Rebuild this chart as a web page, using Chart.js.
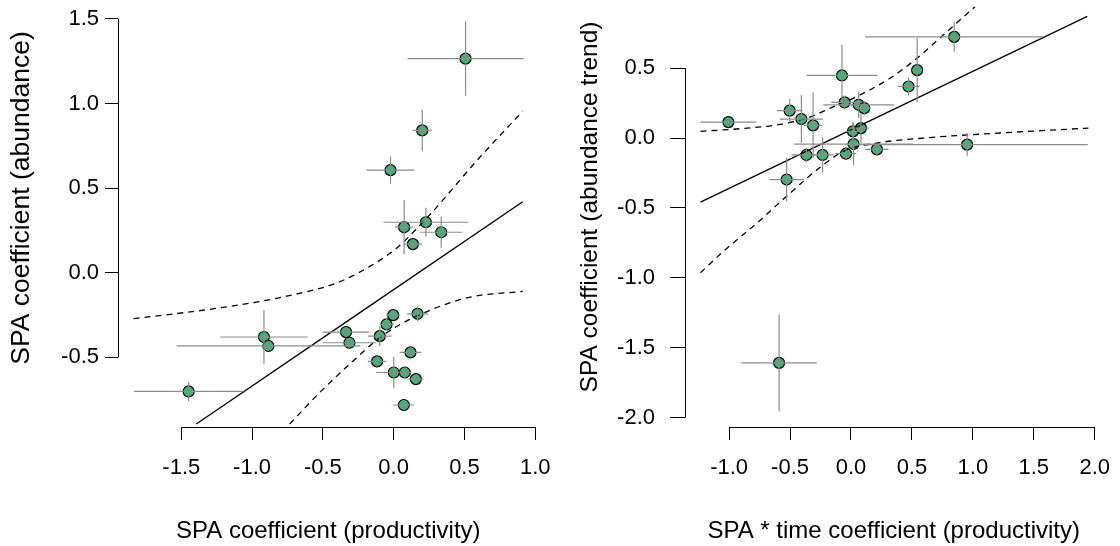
<!DOCTYPE html>
<html>
<head>
<meta charset="utf-8">
<script src="https://cdn.jsdelivr.net/npm/chart.js@4.4.1/dist/chart.umd.min.js"></script>
<style>
  body { margin: 0; background: #fff; }
  canvas { position: absolute; top: 0; }
</style>
</head>
<body>
<canvas id="left" width="560" height="546" style="left:0"></canvas>
<canvas id="right" width="560" height="546" style="left:560px"></canvas>
<script>
// left panel: SPA coefficient (productivity) vs SPA coefficient (abundance)
const prodX     = [0.508, 0.202, -0.022, 0.228, 0.074, 0.336, 0.136, -0.003, 0.169, -0.050, -0.098, -0.336, -0.312, -0.916, -0.885, 0.119, -0.117, 0.001, 0.079, 0.157, 0.072, -1.448];
const prodXErr  = [0.41, 0.067, 0.17, 0.30, 0.064, 0.149, 0.065, 0.05, 0.074, 0.05, 0.083, 0.165, 0.19, 0.309, 0.648, 0.077, 0.065, 0.126, 0.04, 0.053, 0.074, 0.387];
const abundY    = [1.265, 0.841, 0.606, 0.298, 0.269, 0.239, 0.169, -0.251, -0.243, -0.306, -0.375, -0.351, -0.414, -0.380, -0.433, -0.471, -0.524, -0.590, -0.590, -0.629, -0.782, -0.702];
const abundYErr = [0.22, 0.123, 0.08, 0.086, 0.16, 0.091, 0.03, 0.03, 0.044, 0.04, 0.059, 0.03, 0.03, 0.159, 0.03, 0.03, 0.03, 0.093, 0.03, 0.03, 0.03, 0.057];
const fitLeftX   = [-1.394, 0.912];
const fitLeftY   = [-0.894, 0.419];
const upLeftX    = [-1.837, -1.229, -0.757, -0.404, -0.168, 0.02, 0.258, 0.58, 0.912];
const upLeftY    = [-0.272, -0.208, -0.139, -0.061, 0.037, 0.145, 0.345, 0.655, 0.955];
const loLeftX    = [-0.734, -0.522, -0.286, -0.098, 0.115, 0.516, 0.912];
const loLeftY    = [-0.894, -0.708, -0.522, -0.384, -0.276, -0.149, -0.110];
const leftXTicks = [-1.5, -1.0, -0.5, 0.0, 0.5, 1.0];
const leftYTicks = [-0.5, 0.0, 0.5, 1.0, 1.5];

// right panel: SPA * time coefficient (productivity) vs SPA coefficient (abundance trend)
const timeX     = [-1.006, -0.503, -0.407, -0.311, -0.366, -0.233, 0.021, -0.041, -0.528, -0.074, -0.052, 0.063, 0.109, 0.016, 0.082, 0.213, 0.472, 0.543, 0.847, 0.953, -0.59];
const timeXErr  = [0.23, 0.105, 0.178, 0.075, 0.12, 0.09, 0.49, 0.085, 0.143, 0.29, 0.11, 0.29, 0.05, 0.06, 0.065, 0.095, 0.09, 0.04, 0.73, 0.99, 0.31];
const trendY    = [0.114, 0.196, 0.136, 0.091, -0.121, -0.121, -0.043, -0.112, -0.297, 0.448, 0.255, 0.238, 0.214, 0.048, 0.071, -0.081, 0.369, 0.486, 0.724, -0.047, -1.609];
const trendYErr = [0.03, 0.086, 0.17, 0.236, 0.05, 0.125, 0.15, 0.04, 0.155, 0.22, 0.05, 0.095, 0.05, 0.07, 0.107, 0.04, 0.065, 0.23, 0.105, 0.083, 0.348];
const fitRightX   = [-1.235, 1.939];
const fitRightY   = [-0.459, 0.871];
const upRightX    = [-1.235, -0.907, -0.634, -0.361, -0.170, 0.049, 0.322, 0.541, 0.759, 1.019];
const upRightY    = [0.048, 0.067, 0.091, 0.143, 0.214, 0.298, 0.429, 0.571, 0.739, 0.941];
const loRightX    = [-1.235, -1.044, -0.770, -0.498, -0.225, -0.05, 0.213, 0.595, 1.224, 1.948];
const loRightY    = [-0.964, -0.809, -0.607, -0.393, -0.19, -0.09, -0.036, 0.0, 0.036, 0.071];
const rightXTicks = [-1.0, -0.5, 0.0, 0.5, 1.0, 1.5, 2.0];
const rightYTicks = [-2.0, -1.5, -1.0, -0.5, 0.0, 0.5];

const FONT = '"Liberation Sans", Arial, sans-serif';
const pairs = (xs, ys) => xs.map((x, i) => ({ x, y: ys[i] }));

// gray error crosses on top of the points, R-style axis lines, rotated y title
const rStyle = {
  id: 'rStyle',
  afterDatasetsDraw(chart, args, opts) {
    const { ctx, scales: { x, y } } = chart;
    const pts = chart.data.datasets[0].data;
    ctx.save();
    ctx.strokeStyle = '#8c8c8c';
    ctx.lineWidth = 1.2;
    pts.forEach((p, i) => {
      const px = x.getPixelForValue(p.x), py = y.getPixelForValue(p.y);
      ctx.beginPath();
      ctx.moveTo(x.getPixelForValue(p.x - opts.xErr[i]), py);
      ctx.lineTo(x.getPixelForValue(p.x + opts.xErr[i]), py);
      ctx.moveTo(px, y.getPixelForValue(p.y - opts.yErr[i]));
      ctx.lineTo(px, y.getPixelForValue(p.y + opts.yErr[i]));
      ctx.stroke();
    });
    ctx.restore();
  },
  afterDraw(chart, args, opts) {
    const { ctx, chartArea, scales: { x, y } } = chart;
    ctx.save();
    ctx.strokeStyle = '#000';
    ctx.lineWidth = 1;
    ctx.beginPath();
    const bx = Math.round(chartArea.bottom) + 0.5;
    ctx.moveTo(x.getPixelForValue(x.ticks[0].value), bx);
    ctx.lineTo(x.getPixelForValue(x.ticks[x.ticks.length - 1].value), bx);
    const ly = Math.round(chartArea.left) + 0.5;
    ctx.moveTo(ly, y.getPixelForValue(y.ticks[0].value));
    ctx.lineTo(ly, y.getPixelForValue(y.ticks[y.ticks.length - 1].value));
    ctx.stroke();

    ctx.translate(opts.titleX, opts.titleY);
    ctx.rotate(-Math.PI / 2);
    ctx.fillStyle = '#000';
    ctx.font = opts.titleSize + 'px ' + FONT;
    ctx.textAlign = 'center';
    ctx.textBaseline = 'middle';
    ctx.fillText(opts.yTitle, 0, 0);
    ctx.restore();
  }
};

function makePanel(id, p) {
  const lineSet = (xs, ys, dash) => ({
    type: 'line',
    data: pairs(xs, ys),
    borderColor: '#000',
    borderWidth: 1.3,
    borderDash: dash,
    pointRadius: 0,
    cubicInterpolationMode: 'monotone',
    fill: false,
    order: 0
  });
  const tickFont = { family: FONT, size: 22 };
  new Chart(document.getElementById(id), {
    type: 'scatter',
    data: {
      datasets: [
        {
          data: pairs(p.x, p.y),
          backgroundColor: '#3cb371',
          borderColor: '#000',
          borderWidth: 1.2,
          pointRadius: 5.5,
          order: 1
        },
        lineSet(p.fitX, p.fitY, []),
        lineSet(p.upX, p.upY, [6, 5]),
        lineSet(p.loX, p.loY, [6, 5])
      ]
    },
    options: {
      responsive: false,
      animation: false,
      devicePixelRatio: 1,
      layout: { padding: { top: p.top, right: p.right, left: 0, bottom: 0 } },
      plugins: {
        legend: { display: false },
        tooltip: { enabled: false },
        rStyle: { xErr: p.xErr, yErr: p.yErr, yTitle: p.yTitle, titleX: p.titleX, titleY: p.titleY, titleSize: p.titleSize }
      },
      scales: {
        x: {
          type: 'linear',
          min: p.xMin, max: p.xMax,
          afterBuildTicks: s => { s.ticks = p.xTicks.map(v => ({ value: v })); },
          afterFit: s => { s.height = 119; s.paddingLeft = 0; s.paddingRight = 0; },
          border: { display: false },
          grid: { drawOnChartArea: false, drawTicks: true, tickLength: 13, color: '#000', lineWidth: 1 },
          ticks: { autoSkip: false, maxRotation: 0, color: '#000', font: tickFont, padding: 15, callback: v => v.toFixed(1) },
          title: { display: true, text: p.xTitle, color: '#000', font: { family: FONT, size: 24 }, padding: { top: 0, bottom: 0 } }
        },
        y: {
          type: 'linear',
          min: p.yMin, max: p.yMax,
          afterBuildTicks: s => { s.ticks = p.yTicks.map(v => ({ value: v })); },
          afterFit: s => { s.width = p.yWidth; s.paddingTop = 0; s.paddingBottom = 0; },
          border: { display: false },
          grid: { drawOnChartArea: false, drawTicks: true, tickLength: p.tickLen, color: '#000', lineWidth: 1 },
          ticks: { autoSkip: false, color: '#000', font: tickFont, padding: p.yPad, callback: v => v.toFixed(1) }
        }
      }
    },
    plugins: [rStyle]
  });
}

makePanel('left', {
  x: prodX, y: abundY, xErr: prodXErr, yErr: abundYErr,
  fitX: fitLeftX, fitY: fitLeftY, upX: upLeftX, upY: upLeftY, loX: loLeftX, loY: loLeftY,
  xTicks: leftXTicks, yTicks: leftYTicks,
  xMin: -1.947, xMax: 1.024, yMin: -0.912, yMax: 1.572,
  xTitle: 'SPA coefficient (productivity)', yTitle: 'SPA coefficient (abundance)',
  yWidth: 118, top: 6, right: 21.4, tickLen: 13, yPad: 6,
  titleX: 22, titleY: 198, titleSize: 26.5
});

makePanel('right', {
  x: timeX, y: trendY, xErr: timeXErr, yErr: trendYErr,
  fitX: fitRightX, fitY: fitRightY, upX: upRightX, upY: upRightY, loX: loRightX, loY: loRightY,
  xTicks: rightXTicks, yTicks: rightYTicks,
  xMin: -1.362, xMax: 2.063, yMin: -2.068, yMax: 0.94,
  xTitle: 'SPA * time coefficient (productivity)', yTitle: 'SPA coefficient (abundance trend)',
  yWidth: 125, top: 5, right: 17.6, tickLen: 15, yPad: 15,
  titleX: 30, titleY: 207, titleSize: 24.5
});
</script>
</body>
</html>
